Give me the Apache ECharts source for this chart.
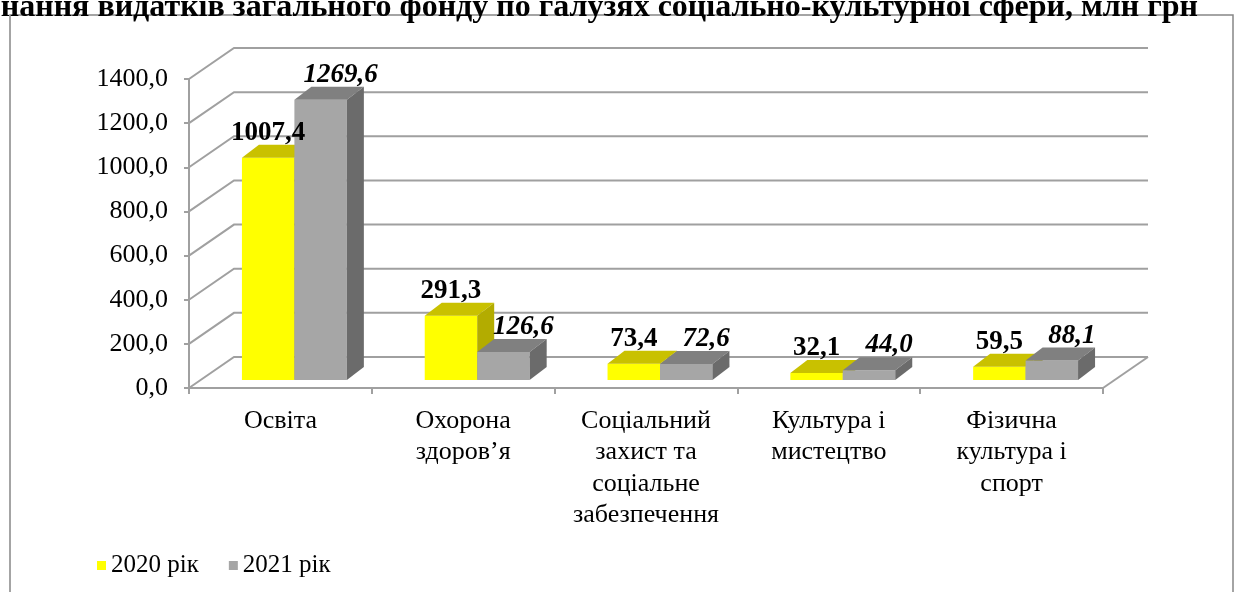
<!DOCTYPE html>
<html>
<head>
<meta charset="utf-8">
<script src="https://cdn.jsdelivr.net/npm/echarts@6/dist/echarts.min.js"></script>
<style>
  html, body { margin: 0; padding: 0; background: #fff; }
  #chart { width: 1237px; height: 592px; }
</style>
</head>
<body>
<div id="chart"></div>
<script>
// дані діаграми
const categories = ['Освіта', 'Охорона\nздоров’я', 'Соціальний\nзахист та\nсоціальне\nзабезпечення', 'Культура і\nмистецтво', 'Фізична\nкультура і\nспорт'];
const values2020 = [1007.4, 291.3, 73.4, 32.1, 59.5];
const values2021 = [1269.6, 126.6, 72.6, 44.0, 88.1];
const yTicks = [0, 200, 400, 600, 800, 1000, 1200, 1400];
const seriesNames = ['2020 рік', '2021 рік'];

const FONT = "'Liberation Serif', 'Times New Roman', serif";
const fmt = v => v.toFixed(1).replace('.', ',');

// кольори граней: фронт, верх, бік
const faces = [
  { front: '#FFFF00', top: '#C9C100', side: '#B3AC00' },
  { front: '#A6A6A6', top: '#808080', side: '#6B6B6B' }
];

// зсув "глибини" стовпчика та підлоги
const BAR_DX = 17, BAR_DY = -13;
const FLOOR_DX = 45, FLOOR_DY = -31;

function barRender(k) {
  return function (params, api) {
    const i = api.value(0);
    const v = api.value(1);
    const p0 = api.coord([i, 0]);
    const p1 = api.coord([i, v]);
    const band = api.size([1, 0])[0];
    const w = band * 0.287;
    const cx = p0[0] + 14;
    const x = k === 0 ? cx - w : cx;
    const base = p0[1] - 8;
    const top = p1[1] - 8;
    const c = faces[k];
    const children = [
      { type: 'rect', z2: k, shape: { x: x, y: top, width: w, height: base - top },
        style: { fill: c.front } },
      { type: 'polygon', z2: k, shape: { points: [[x, top], [x + w, top], [x + w + BAR_DX, top + BAR_DY], [x + BAR_DX, top + BAR_DY]] },
        style: { fill: c.top } },
      { type: 'polygon', z2: k, shape: { points: [[x + w, top], [x + w + BAR_DX, top + BAR_DY], [x + w + BAR_DX, base + BAR_DY], [x + w, base]] },
        style: { fill: c.side } },
      { type: 'text', z2: 10, x: x + w / 2 + (k === 0 ? 0 : 20), y: top - 25,
        style: { text: fmt(v), fill: '#000', font: (k === 0 ? '' : 'italic ') + 'bold 27px ' + FONT,
          align: 'center', verticalAlign: 'middle' } }
    ];
    return { type: 'group', children: children };
  };
}

function gridRender(params, api) {
  const v = api.value(1);
  const cs = params.coordSys;
  const y = api.coord([0, v])[1];
  const x0 = cs.x, x1 = cs.x + cs.width;
  const children = [
    { type: 'polyline', shape: { points: [[x0, y], [x0 + FLOOR_DX, y + FLOOR_DY], [x1 + FLOOR_DX, y + FLOOR_DY]] },
      style: { stroke: '#a0a0a0', lineWidth: 2, fill: null } }
  ];
  if (v === 0) {
    children.push({ type: 'line', shape: { x1: x1, y1: y, x2: x1 + FLOOR_DX, y2: y + FLOOR_DY },
      style: { stroke: '#a0a0a0', lineWidth: 2 } });
  }
  return { type: 'group', children: children };
}

const chart = echarts.init(document.getElementById('chart'));
chart.setOption({
  animation: false,
  color: ['#FFFF00', '#A6A6A6'],
  textStyle: { fontFamily: FONT },
  grid: { left: 189, right: 134, top: 79, bottom: 204 },
  legend: {
    data: seriesNames,
    left: 92, top: 548,
    icon: 'rect', itemWidth: 9, itemHeight: 9, itemGap: 30,
    textStyle: { fontFamily: FONT, fontSize: 25, color: '#000' }
  },
  xAxis: {
    type: 'category',
    data: categories,
    axisLine: { lineStyle: { color: '#a0a0a0', width: 2 } },
    axisTick: { show: true, length: 6, lineStyle: { color: '#a0a0a0', width: 2 } },
    axisLabel: { interval: 0, margin: 17, fontFamily: FONT, fontSize: 26, lineHeight: 31.5, color: '#000', align: 'center' },
    splitLine: { show: false }
  },
  yAxis: {
    type: 'value',
    min: 0, max: 1400, interval: 200,
    axisLine: { show: true, lineStyle: { color: '#a0a0a0', width: 2 } },
    axisTick: { show: true, length: 5, lineStyle: { color: '#a0a0a0', width: 2 } },
    axisLabel: { margin: 21, fontFamily: FONT, fontSize: 26, color: '#000', formatter: fmt },
    splitLine: { show: false }
  },
  graphic: [
    { type: 'rect', shape: { x: 10, y: 15, width: 1223, height: 600 },
      style: { fill: null, stroke: '#868686', lineWidth: 1.5 }, z: -10 },
    { type: 'text', x: 1198, y: -8,
      style: { text: 'Виконання видатків загального фонду по галузях соціально-культурної сфери, млн грн',
        font: 'bold 32px ' + FONT, fill: '#000', align: 'right', verticalAlign: 'top' } }
  ],
  series: [
    { type: 'custom', name: 'grid3d', renderItem: gridRender, data: yTicks.map(v => [0, v]), z: 1, silent: true, clip: false },
    { type: 'custom', name: seriesNames[0], renderItem: barRender(0), data: values2020.map((v, i) => [i, v]), z: 2, clip: false,
      itemStyle: { color: '#FFFF00' } },
    { type: 'custom', name: seriesNames[1], renderItem: barRender(1), data: values2021.map((v, i) => [i, v]), z: 2, clip: false,
      itemStyle: { color: '#A6A6A6' } }
  ]
});
</script>
</body>
</html>
